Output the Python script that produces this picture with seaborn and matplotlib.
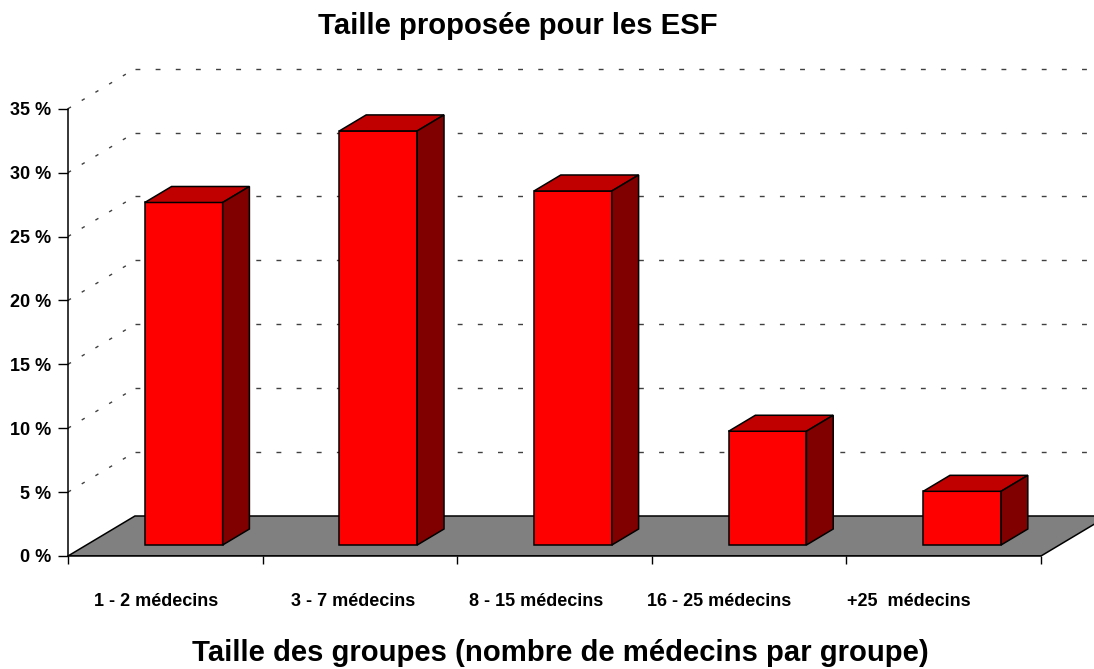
import seaborn as sns
import matplotlib.pyplot as plt
from matplotlib.patches import Polygon
from matplotlib.transforms import ScaledTranslation

# data
categories = ["1 - 2 médecins", "3 - 7 médecins", "8 - 15 médecins",
              "16 - 25 médecins", "+25  médecins"]
values = [26.8, 32.4, 27.7, 8.9, 4.2]
yticks = [0, 5, 10, 15, 20, 25, 30, 35]
ytick_labels = [f"{v} %" for v in yticks]
# the original nudges category labels left a little (pixels)
label_shift_px = [-9, -7, -18, -30, -35]

sns.set_style("white")
plt.rcParams["font.family"] = ["Liberation Sans", "DejaVu Sans"]
plt.rcParams["font.weight"] = "bold"
for k in ["text.color", "axes.labelcolor", "xtick.color", "ytick.color"]:
    plt.rcParams[k] = "black"

fig = plt.figure(figsize=(10.94, 6.69), dpi=100)
ax = fig.add_axes([68 / 1094, (669 - 556) / 669, (1094 - 68) / 1094, (556 - 55) / 669])

# fake 3d: depth offset of the back wall, in data units
DX, DY = 0.344, 3.13
F0, FD = 0.275, 0.4  # bar front depth, bar thickness (fractions of depth)

sns.barplot(x=categories, y=values, width=0.4, color="#FF0000", saturation=1,
            edgecolor="black", linewidth=1.1, ax=ax, zorder=3)

ax.set_xlim(-0.5, -0.5 + 1026 / 194.6)
ax.set_ylim(0, 501 / 12.78)

# floor
floor = Polygon([(-0.5, 0), (4.5, 0), (4.5 + DX, DY), (-0.5 + DX, DY)],
                facecolor="#808080", edgecolor="black", lw=1.1, zorder=1)
ax.add_patch(floor)

# back wall gridlines + left wall diagonals
xmax = ax.get_xlim()[1]
for v in yticks[1:]:
    ax.plot([-0.5 + DX, xmax], [v + DY, v + DY], color="#404040", lw=1,
            ls=(0, (3.5, 11)), zorder=0.5)
    ax.plot([-0.5, -0.5 + DX], [v, v + DY], color="#404040", lw=1,
            ls=(0, (2.5, 9)), zorder=0.5)

# shift front faces back a bit and add top/side faces
for p in list(ax.patches):
    if p is floor:
        continue
    h = p.get_height()
    p.set_x(p.get_x() + F0 * DX)
    p.set_y(F0 * DY)
    x0, x1 = p.get_x(), p.get_x() + p.get_width()
    y0, y1 = F0 * DY, F0 * DY + h
    dx, dy = FD * DX, FD * DY
    top = Polygon([(x0, y1), (x1, y1), (x1 + dx, y1 + dy), (x0 + dx, y1 + dy)],
                  facecolor="#C00000", edgecolor="black", lw=1.1, zorder=3)
    side = Polygon([(x1, y0), (x1 + dx, y0 + dy), (x1 + dx, y1 + dy), (x1, y1)],
                   facecolor="#800000", edgecolor="black", lw=1.1, zorder=3)
    ax.add_patch(top)
    ax.add_patch(side)

# axes
sns.despine(ax=ax, top=True, right=True)
ax.spines["left"].set_bounds(0, 35)
ax.spines["bottom"].set_bounds(-0.5, 4.5)
for s in ["left", "bottom"]:
    ax.spines[s].set_color("black")
    ax.spines[s].set_linewidth(1.1)
    ax.spines[s].set_zorder(2)

ax.set_yticks(yticks, labels=ytick_labels)
ax.tick_params(axis="y", length=7.5, width=1, color="black", pad=4.8,
               labelsize=13, left=True)
ax.set_xticks([-0.5, 0.5, 1.5, 2.5, 3.5, 4.5], labels=[""] * 6)
ax.set_xticks(range(len(categories)), labels=categories, minor=True)
ax.tick_params(axis="x", which="major", length=6, width=1, color="black", bottom=True)
ax.tick_params(axis="x", which="minor", length=0, pad=27, labelsize=13)
for lbl, sh in zip(ax.get_xticklabels(minor=True), label_shift_px):
    lbl.set_transform(lbl.get_transform() + ScaledTranslation(sh / 100, 0, fig.dpi_scale_trans))
ax.set_xlabel("")
ax.set_ylabel("")

fig.text(517.5 / 1094, 1 - 34 / 669, "Taille proposée pour les ESF",
         ha="center", va="baseline", fontsize=21.1, fontweight="bold")
fig.text(560 / 1094, 1 - 661 / 669, "Taille des groupes (nombre de médecins par groupe)",
         ha="center", va="baseline", fontsize=21.1, fontweight="bold")

fig.savefig("out.png", dpi=100)
